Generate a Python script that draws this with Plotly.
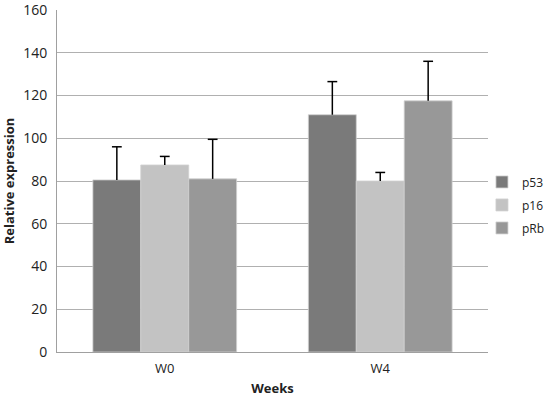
import plotly.graph_objects as go

categories = ["W0", "W4"]
p53 = [80.5, 111]
p16 = [87.5, 80]
prb = [81, 117.5]
p53_err = [15.5, 15.5]
p16_err = [4, 4]
prb_err = [18.5, 18.5]
y_ticks = [0, 20, 40, 60, 80, 100, 120, 140, 160]

fig = go.Figure()
series = [("p53", p53, p53_err, "#7a7a7a"),
          ("p16", p16, p16_err, "#c3c3c3"),
          ("pRb", prb, prb_err, "#989898")]
for name, vals, errs, col in series:
    fig.add_trace(go.Bar(
        x=categories, y=vals, name=name, offsetgroup=name, legendgroup=name,
        marker=dict(color=col, line=dict(color="#d0d0d0", width=0.8)),
        error_y=dict(type="data", array=errs, symmetric=False, arrayminus=[0]*len(errs),
                     color="black", thickness=1.5, width=0),
    ))
for name, vals, errs, col in series:
    tops = [v + e for v, e in zip(vals, errs)]
    fig.add_trace(go.Scatter(
        x=categories, y=tops, mode="markers", offsetgroup=name, showlegend=False,
        hoverinfo="skip",
        marker=dict(symbol="line-ew", size=7, color="black",
                    line=dict(color="black", width=1.5)),
    ))

fig.update_layout(
    width=550, height=400,
    margin=dict(l=57, r=62, t=10, b=48, autoexpand=False),
    paper_bgcolor="white", plot_bgcolor="white",
    barmode="group", bargap=0.333, bargroupgap=0,
    scattermode="group", scattergap=0.333,
    font=dict(family="Open Sans, Liberation Sans, sans-serif", size=13, color="#222"),
    legend=dict(x=0.986, y=0.43, yanchor="middle", xanchor="left",
                bgcolor="rgba(0,0,0,0)",
                font=dict(size=12), itemwidth=30, tracegroupgap=4,
                traceorder="grouped"),
    showlegend=True,
)
fig.update_xaxes(
    showline=True, linecolor="#a0a0a0", linewidth=1,
    ticks="", ticklabelstandoff=4, tickfont=dict(size=13),
    title=dict(text="<b>Weeks</b>", font=dict(size=13), standoff=8),
)
fig.update_yaxes(
    range=[0, 160], tickvals=y_ticks,
    showgrid=True, gridcolor="#b0b0b0", gridwidth=1,
    showline=True, linecolor="#a0a0a0", linewidth=1,
    ticks="", ticklabelstandoff=6, tickfont=dict(size=14), ticklabeloverflow="allow",
    title=dict(text="<b>Relative expression</b>", font=dict(size=13), standoff=12),
    zeroline=False,
)
fig.write_html("out.html", config={"displayModeBar": False},
               post_script="document.body.style.margin='0';")
